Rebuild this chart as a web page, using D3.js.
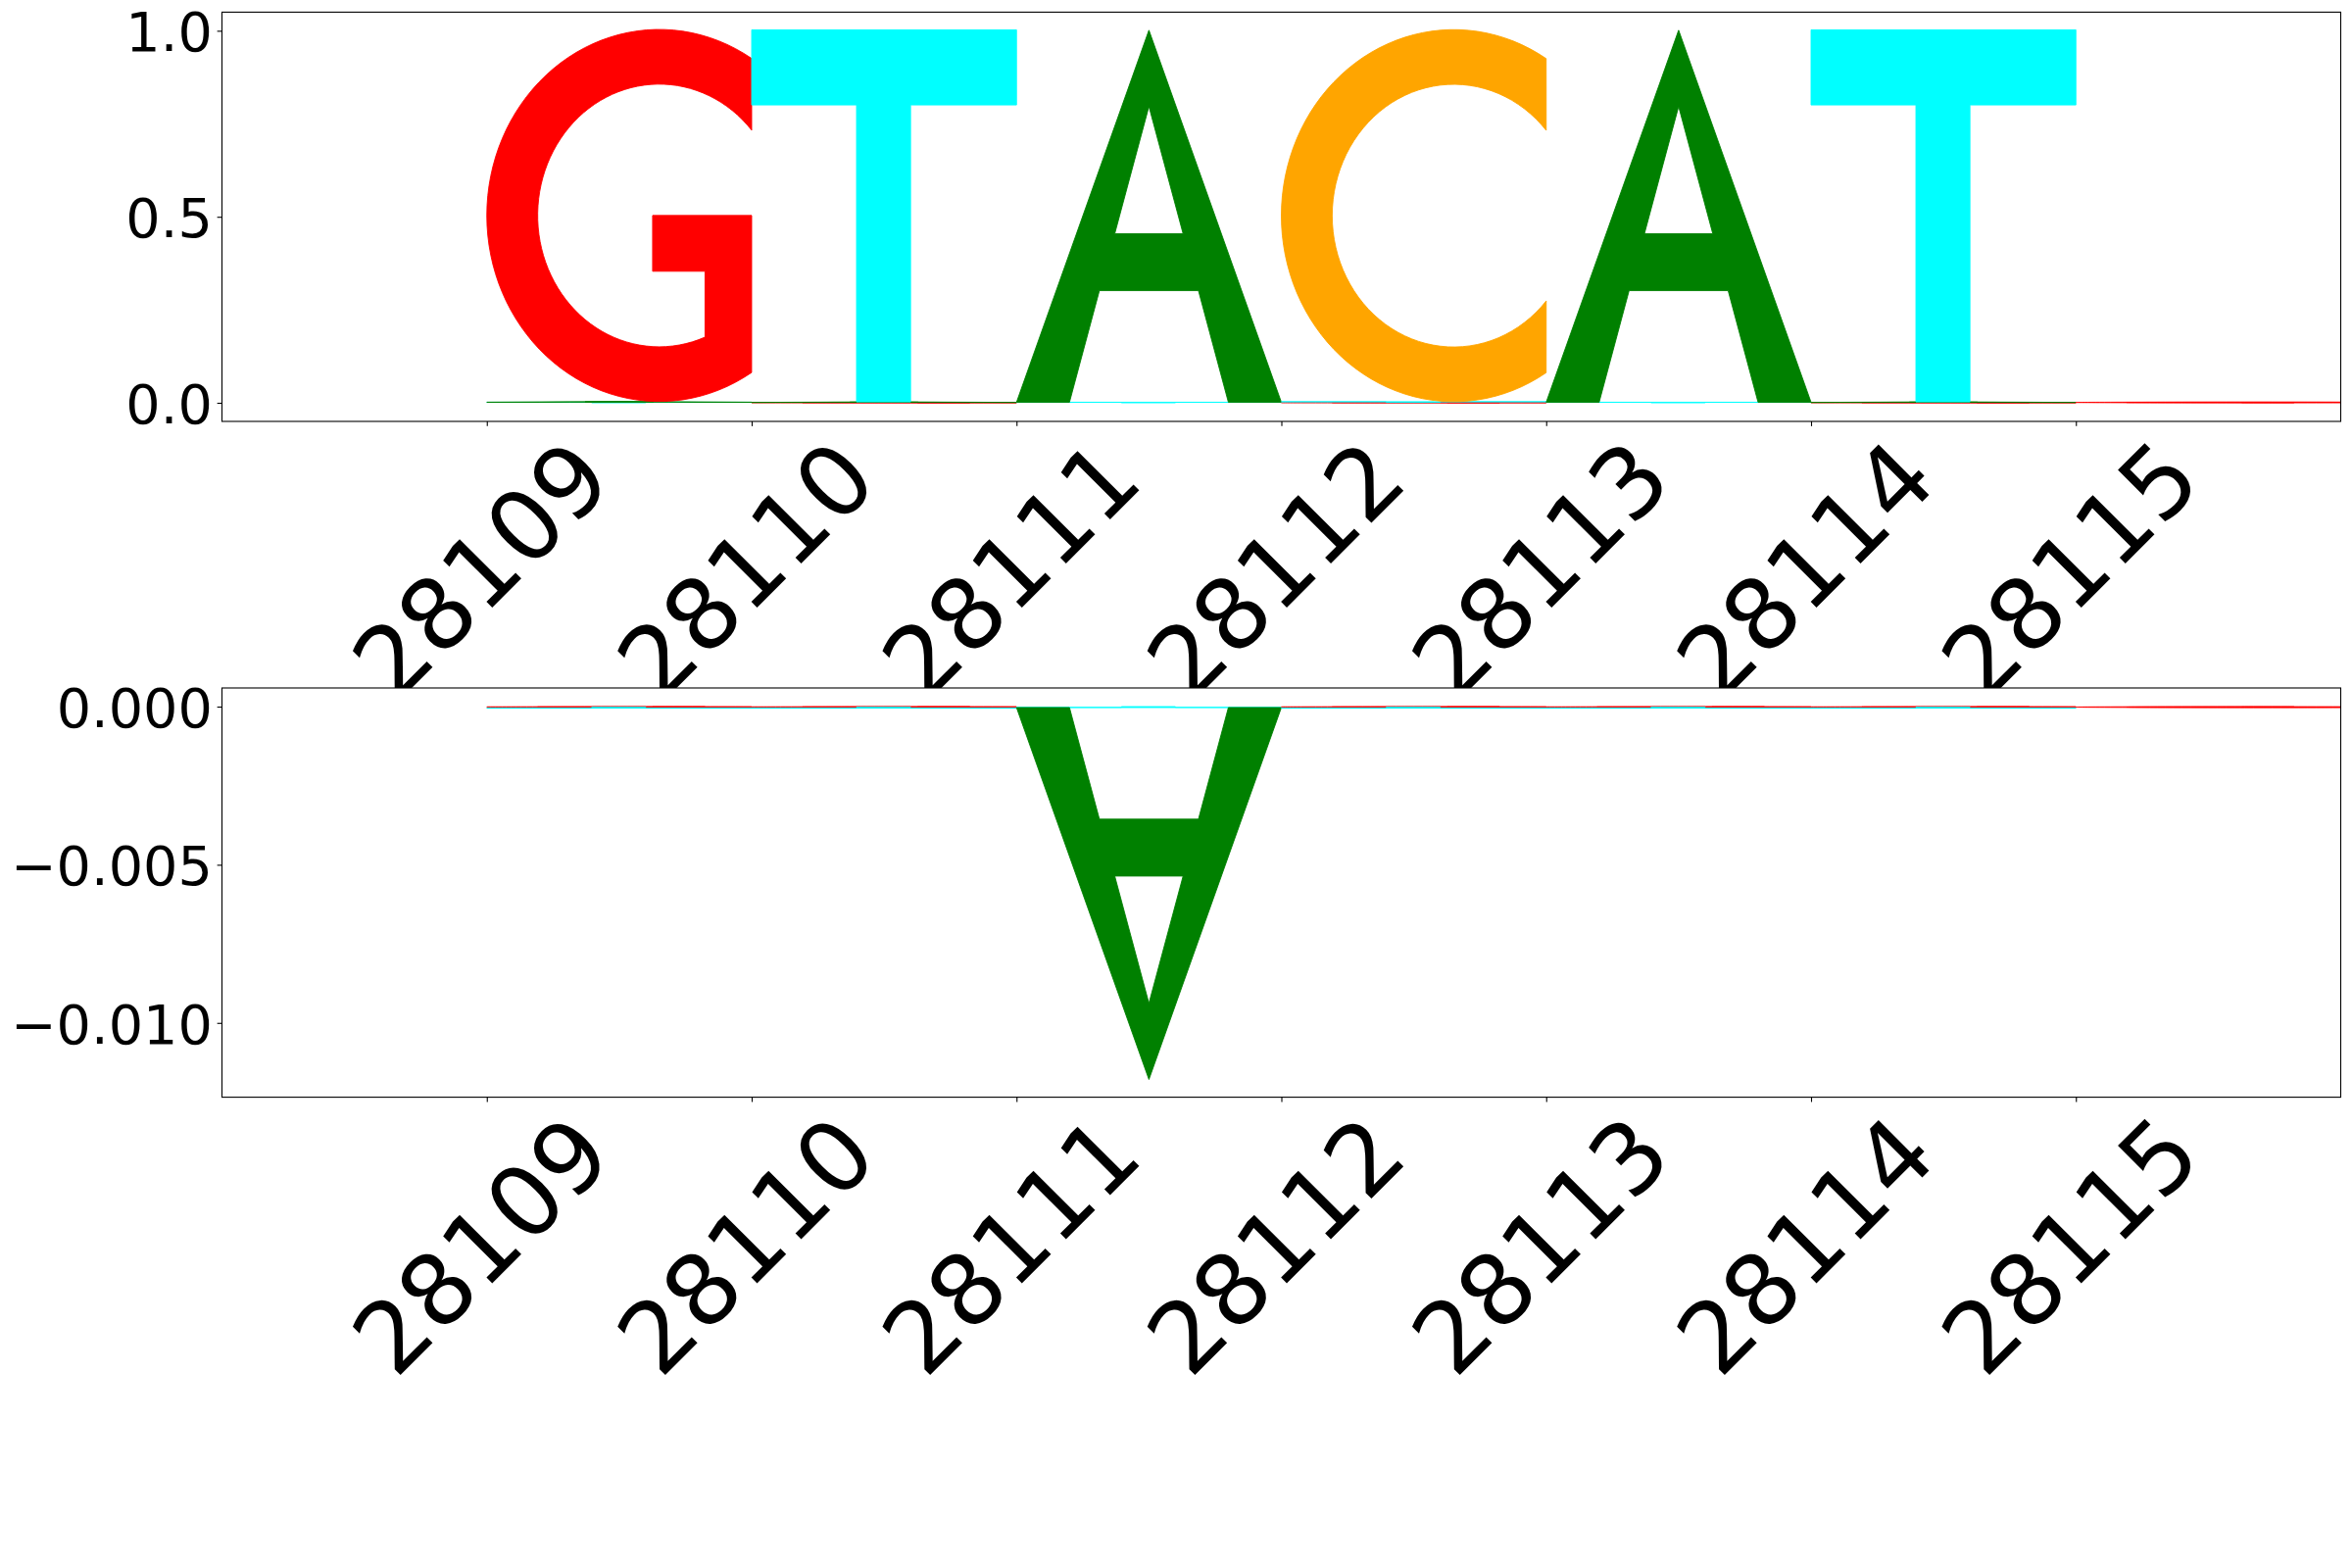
<!DOCTYPE html>
<html><head><meta charset="utf-8">
<script src="https://cdn.jsdelivr.net/npm/d3@7"></script>
<style>html,body{margin:0;padding:0;background:#fff}</style>
</head><body>
<svg id="c" width="2400" height="1600"></svg>
<script>
// ---------------- data ----------------
const positions = [28109, 28110, 28111, 28112, 28113, 28114, 28115];
const bases = ["A", "C", "G", "T"];
// top panel (positive contributions)
const topA = [0.002, 0.0015, 1.0, 0.0, 1.0, 0.0015, 0.0];
const topC = [0.0, 0.0, 0.0, 1.0, 0.0, 0.0, 0.0];
const topG = [1.0, 0.001, 0.0, 0.001, 0.0, 0.001, 0.002];
const topT = [0.0015, 1.0, 0.0015, 0.002, 0.0015, 1.0, 0.0];
// bottom panel (negative contributions)
const botA = [0.0, 0.0, -0.01176, 0.0, 0.0, 0.0, 0.0];
const botC = [0.0, 0.0, 0.0, 0.0, 0.0, 0.0, 0.0];
const botG = [-0.00002, -0.00002, 0.0, -0.00002, -0.00002, -0.00002, -0.00003];
const botT = [-0.00003, -0.00003, -0.00003, -0.00003, -0.00003, -0.00003, 0.0];
const topTicks = [0.0, 0.5, 1.0];
const botTicks = [-0.010, -0.005, 0.0];
const xTickLabels = positions.map(String);

// ---------------- setup ----------------
const colors = {A: "#008000", C: "#ffa500", G: "#ff0000", T: "#00ffff"};
const svg = d3.select("#c");
svg.append("rect").attr("width", 2400).attr("height", 1600).attr("fill", "#fff");

const L = 226.5, R = 2388.5;
const P1 = {top: 12.4, bottom: 430};
const P2 = {top: 702, bottom: 1119.6};
const x = d3.scaleLinear().domain([28108, 28116]).range([L, R]);
const y1 = d3.scaleLinear().domain([-0.05, 1.05]).range([P1.bottom, P1.top]);
const y2 = d3.scaleLinear().domain([-0.01235, 0.00059]).range([P2.bottom, P2.top]);

// glyph outlines in unit box (x 0..1, y 0..1 upward)
function arc(cx, cy, rx, ry, a0, a1, n = 80) {
  const pts = [];
  for (let i = 0; i <= n; i++) {
    const a = (a0 + (a1 - a0) * i / n) * Math.PI / 180;
    pts.push([cx + rx * Math.cos(a), cy + ry * Math.sin(a)]);
  }
  return pts;
}
const OX = 0.651, OY = 0.5, ORX = 0.651, ORY = 0.5, IRX = 0.459, IRY = 0.353;
const GLYPHS = {
  A: [[[0, 0], [0.5, 1], [1, 0], [0.8, 0], [0.687, 0.3], [0.313, 0.3], [0.2, 0]],
      [[0.371, 0.453], [0.5, 0.795], [0.629, 0.453]]],
  T: [[[0, 1], [1, 1], [1, 0.798], [0.6, 0.798], [0.6, 0], [0.396, 0], [0.396, 0.798], [0, 0.798]]],
  C: [[...arc(OX, OY, ORX, ORY, 57.6, 302.4), [1, 0.271], ...arc(OX, OY, IRX, IRY, 319.5, 40.5)]],
  G: [[...arc(OX, OY, ORX, ORY, 57.6, 302.4), [1, 0.5], [0.626, 0.5], [0.626, 0.35],
       [0.824, 0.35], [0.824, 0.173], ...arc(OX, OY, IRX, IRY, 292.1, 40.5)]]
};

function stackMarks(series) {
  const marks = [];
  positions.forEach((pos, i) => {
    const vals = bases.map(b => ({b, v: series[b][i]})).filter(d => d.v !== 0);
    const pos_ = vals.filter(d => d.v > 0).sort((a, b) => a.v - b.v);
    const neg_ = vals.filter(d => d.v < 0).sort((a, b) => b.v - a.v);
    let acc = 0;
    pos_.forEach(d => { marks.push({pos, b: d.b, base: acc, h: d.v}); acc += d.v; });
    acc = 0;
    neg_.forEach(d => { marks.push({pos, b: d.b, base: acc, h: d.v}); acc += d.v; });
  });
  return marks;
}

function letterPath(m, y) {
  const line = d3.line();
  return GLYPHS[m.b].map(ring =>
    line(ring.map(p => [x(m.pos + p[0]), y(m.base + p[1] * m.h)])) + "Z").join("");
}

function panel(P, y, series, yTicks, yFmt) {
  const g = svg.append("g");
  g.append("rect").attr("x", L).attr("y", P.top).attr("width", R - L)
    .attr("height", P.bottom - P.top).attr("fill", "#fff");
  g.append("g").selectAll("path").data(stackMarks(series)).join("path")
    .attr("d", m => letterPath(m, y))
    .attr("fill", m => colors[m.b]).attr("fill-rule", "evenodd")
    .attr("stroke", m => colors[m.b]).attr("stroke-width", 0.9);
  g.append("rect").attr("x", L).attr("y", P.top).attr("width", R - L)
    .attr("height", P.bottom - P.top).attr("fill", "none")
    .attr("stroke", "#000").attr("stroke-width", 1.1);

  const tl = 4.86, pad = 4.86;
  const ya = g.append("g").attr("transform", `translate(${L},0)`)
    .call(d3.axisLeft(y).tickValues(yTicks).tickFormat(yFmt).tickSize(tl).tickPadding(pad));
  ya.select(".domain").remove();
  ya.selectAll(".tick line").attr("stroke", "#000").attr("stroke-width", 1.1);
  ya.selectAll(".tick text").attr("font-family", "DejaVu Sans").attr("font-size", 55.6)
    .attr("fill", "#000").attr("dy", null).attr("y", 20.5);

  const xa = g.append("g").attr("transform", `translate(0,${P.bottom})`)
    .call(d3.axisBottom(x).tickValues(positions)
      .tickFormat((d, i) => xTickLabels[i]).tickSize(tl).tickPadding(pad));
  xa.select(".domain").remove();
  xa.selectAll(".tick line").attr("stroke", "#000").attr("stroke-width", 1.1);
  const fs = 100, Wt = 5 * 0.636 * fs, Ht = 1.0 * fs, desc = 0.236 * fs;
  const half = (Wt + Ht) / (2 * Math.SQRT2);
  const cy = tl + pad + half;
  const v = -Ht / 2 + desc;
  const bx = -v / Math.SQRT2, by = cy - v / Math.SQRT2;
  xa.selectAll(".tick text").attr("font-family", "DejaVu Sans").attr("font-size", fs)
    .attr("fill", "#000").attr("text-anchor", "middle")
    .attr("dy", null).attr("x", bx).attr("y", by)
    .attr("transform", `rotate(-45,${bx},${by})`);
}

panel(P1, y1, {A: topA, C: topC, G: topG, T: topT}, topTicks, d3.format(".1f"));
panel(P2, y2, {A: botA, C: botC, G: botG, T: botT}, botTicks, d3.format(".3f"));
</script>
</body></html>
